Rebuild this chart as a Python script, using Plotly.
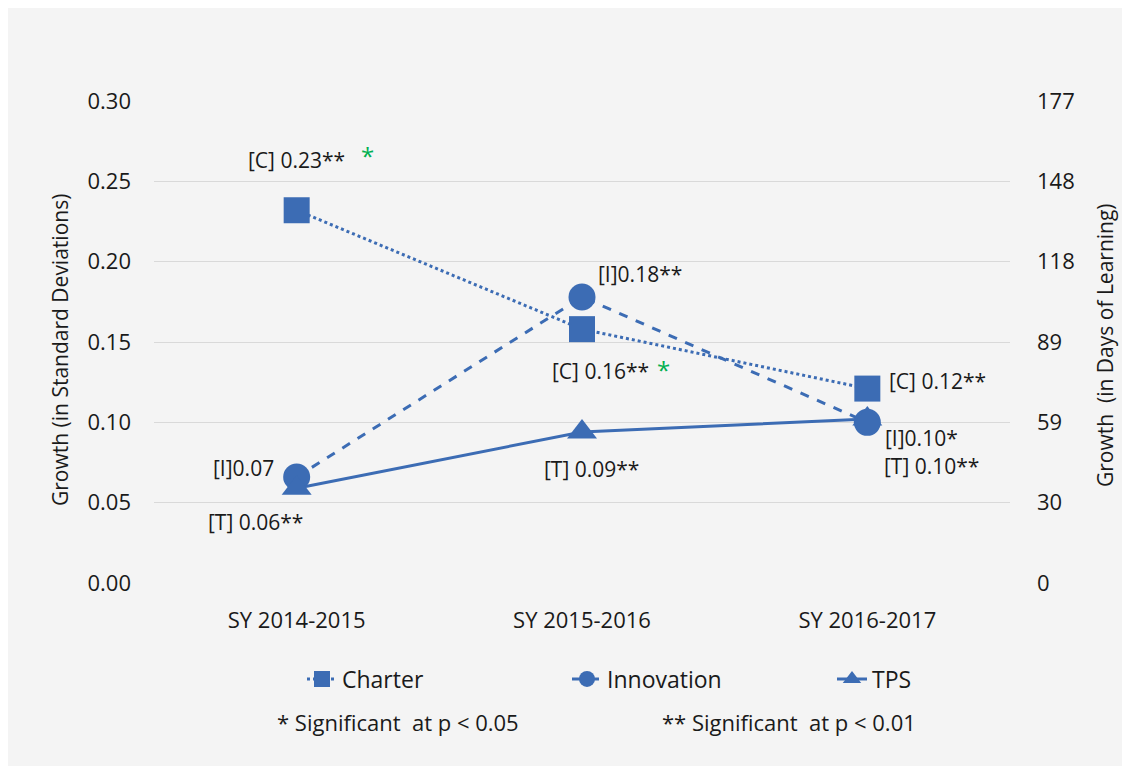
import plotly.graph_objects as go

categories = ["SY 2014-2015", "SY 2015-2016", "SY 2016-2017"]
charter = [0.232, 0.158, 0.121]
innovation = [0.066, 0.178, 0.100]
tps = [0.059, 0.094, 0.102]

charter_labels = ["[C] 0.23**", "[C] 0.16**", "[C] 0.12**"]
innovation_labels = ["[I]0.07", "[I]0.18**", "[I]0.10*"]
tps_labels = ["[T] 0.06**", "[T] 0.09**", "[T] 0.10**"]
green_star_idx = [0, 1]  # charter points with extra green star

left_ticks = [0.00, 0.05, 0.10, 0.15, 0.20, 0.25, 0.30]
right_ticktext = ["0", "30", "59", "89", "118", "148", "177"]
days_per_sd = 590

BLUE = "#3c6cb4"
GREEN = "#00b050"
TXT = "#1a1a1a"
FONT = "Open Sans"
OFF = 8  # page body margin
W, H = 1130, 758
L, R, T, B = 146, 128, 93, 183
pw = W - L - R
ph = H - T - B


def px(xpage):
    return (xpage - OFF - L) / pw


def py(ypage):
    return (H - B - (ypage - OFF)) / ph


fig = go.Figure()
fig.add_trace(go.Scatter(x=categories, y=charter, name="Charter", mode="lines+markers",
                         line=dict(color=BLUE, width=3, dash="dot"),
                         marker=dict(symbol="square", size=26, color=BLUE)))
fig.add_trace(go.Scatter(x=categories, y=innovation, name="Innovation", mode="lines+markers",
                         line=dict(color=BLUE, width=3, dash="dash"),
                         marker=dict(symbol="circle", size=27, color=BLUE)))
fig.add_trace(go.Scatter(x=categories, y=tps, name="TPS", mode="lines+markers",
                         line=dict(color=BLUE, width=3, dash="solid"),
                         marker=dict(symbol="triangle-up", size=26, color=BLUE)))
# invisible trace to carry the right (days) axis
fig.add_trace(go.Scatter(x=categories, y=[v * days_per_sd for v in charter], yaxis="y2",
                         mode="markers", marker=dict(opacity=0), showlegend=False,
                         hoverinfo="skip"))

ann = []


def lab(i, y, text, xs, ys, xanchor="center"):
    ann.append(dict(x=categories[i], y=y, xref="x", yref="y", text=text, showarrow=False,
                    xshift=xs, yshift=ys, xanchor=xanchor,
                    font=dict(family=FONT, size=21, color=TXT)))


# Charter labels
lab(0, charter[0], charter_labels[0], 0, 50)
lab(1, charter[1], charter_labels[1], 18, -42)
lab(2, charter[2], charter_labels[2], 20, 8, "left")
# Innovation labels
lab(0, innovation[0], innovation_labels[0], -53, 9)
lab(1, innovation[1], innovation_labels[1], 58, 23)
lab(2, innovation[2], innovation_labels[2], 54, -16)
# TPS labels
lab(0, tps[0], tps_labels[0], -41, -34)
lab(1, tps[1], tps_labels[1], 9, -37)
lab(2, tps[2], tps_labels[2], 64, -47)

# green stars
star_offsets = {0: (71, 55), 1: (81, -40)}
for i in green_star_idx:
    xs, ys = star_offsets[i]
    ann.append(dict(x=categories[i], y=charter[i], xref="x", yref="y", text="*",
                    showarrow=False, xshift=xs, yshift=ys,
                    font=dict(family=FONT, size=24, color=GREEN)))

# axis titles
ann.append(dict(x=px(60), y=py(350), xref="paper", yref="paper", xanchor="center",
                yanchor="middle", text="Growth (in Standard Deviations)", textangle=-90,
                showarrow=False, font=dict(family=FONT, size=21, color=TXT)))
ann.append(dict(x=px(1105), y=py(345), xref="paper", yref="paper", xanchor="center",
                yanchor="middle", text="Growth  (in Days of Learning)", textangle=-90,
                showarrow=False, font=dict(family=FONT, size=21, color=TXT)))
# footnotes
ann.append(dict(x=px(275), y=py(722), xref="paper", yref="paper", xanchor="left",
                yanchor="middle", text="* Significant  at p < 0.05",
                showarrow=False, font=dict(family=FONT, size=22, color=TXT)))
ann.append(dict(x=px(660), y=py(722), xref="paper", yref="paper", xanchor="left",
                yanchor="middle", text="** Significant  at p < 0.01",
                showarrow=False, font=dict(family=FONT, size=22, color=TXT)))

fig.update_layout(
    width=W, height=H,
    margin=dict(l=L, r=R, t=T, b=B),
    paper_bgcolor="#f4f4f4", plot_bgcolor="#f4f4f4",
    font=dict(family=FONT, size=22, color=TXT),
    showlegend=True,
    legend=dict(orientation="h", x=px(302), xanchor="left",
                y=py(679), yanchor="middle",
                entrywidth=220, entrywidthmode="pixels",
                font=dict(family=FONT, size=23, color=TXT),
                bgcolor="rgba(0,0,0,0)"),
    xaxis=dict(type="category", range=[-0.5, 2.5], showgrid=False, showline=False,
               zeroline=False, ticks="", tickfont=dict(size=22), ticklabelstandoff=22),
    yaxis=dict(range=[0, 0.30], tickvals=left_ticks, tickformat=".2f",
               showgrid=True, gridcolor="#d9d9d9", gridwidth=1, zeroline=False,
               showline=False, ticks="", tickfont=dict(size=22), ticklabelstandoff=22),
    yaxis2=dict(range=[0, 0.30 * days_per_sd], overlaying="y", side="right",
                tickvals=[v * days_per_sd for v in left_ticks], ticktext=right_ticktext,
                showgrid=False, zeroline=False, showline=False, ticks="",
                tickfont=dict(size=22), ticklabelstandoff=26),
    annotations=ann,
)

fig.write_html("out.html")
